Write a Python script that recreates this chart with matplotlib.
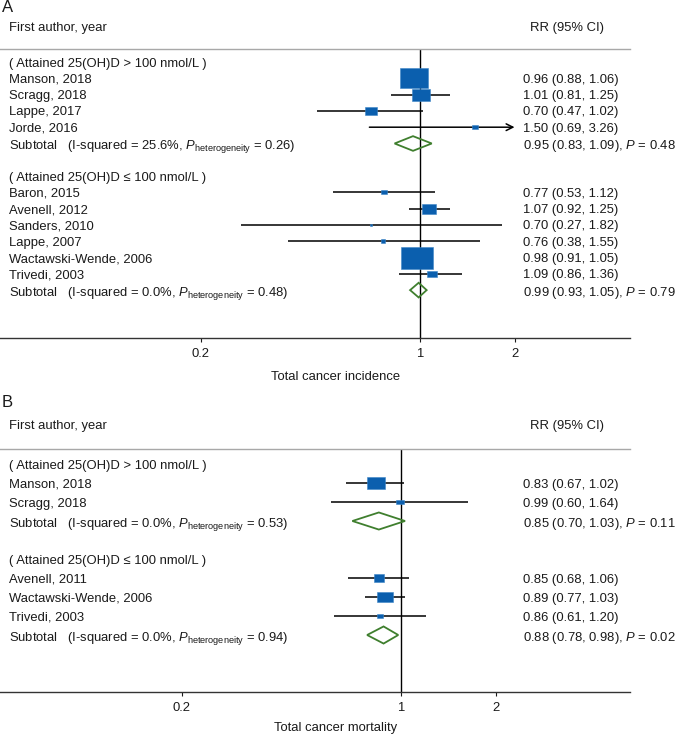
"""
Forest plot: vitamin D supplementation and total cancer incidence / mortality,
split by attained 25(OH)D level.
"""

import matplotlib
matplotlib.use("Agg")
import matplotlib.pyplot as plt
from matplotlib.path import Path
from matplotlib.ticker import NullLocator

plt.rcParams["font.family"] = ["Liberation Sans", "DejaVu Sans"]
plt.rcParams["mathtext.fontset"] = "custom"
plt.rcParams["mathtext.rm"] = "Liberation Sans"
plt.rcParams["mathtext.it"] = "Liberation Sans:italic"

# ---------------- Panel A : total cancer incidence ----------------
a1_header = "( Attained 25(OH)D > 100 nmol/L )"
a1_studies = ["Manson, 2018", "Scragg, 2018", "Lappe, 2017", "Jorde, 2016"]
a1_rr = [0.96, 1.01, 0.70, 1.50]
a1_lo = [0.88, 0.81, 0.47, 0.69]
a1_hi = [1.06, 1.25, 1.02, 3.26]
a1_weight = [60.3, 25.9, 10.3, 3.5]      # % weight
a1_sub = [0.95, 0.83, 1.09]
a1_isq, a1_phet, a1_p = "25.6", "0.26", "0.48"

a2_header = "( Attained 25(OH)D \u2264 100 nmol/L )"
a2_studies = ["Baron, 2015", "Avenell, 2012", "Sanders, 2010", "Lappe, 2007",
              "Wactawski-Wende, 2006", "Trivedi, 2003"]
a2_rr = [0.77, 1.07, 0.70, 0.76, 0.98, 1.09]
a2_lo = [0.53, 0.92, 0.27, 0.38, 0.91, 0.86]
a2_hi = [1.12, 1.25, 1.82, 1.55, 1.05, 1.36]
a2_weight = [3.4, 15.7, 0.6, 1.7, 71.5, 7.0]
a2_sub = [0.99, 0.93, 1.05]
a2_isq, a2_phet, a2_p = "0.0", "0.48", "0.79"

# ---------------- Panel B : total cancer mortality ----------------
b1_header = "( Attained 25(OH)D > 100 nmol/L )"
b1_studies = ["Manson, 2018", "Scragg, 2018"]
b1_rr = [0.83, 0.99]
b1_lo = [0.67, 0.60]
b1_hi = [1.02, 1.64]
b1_weight = [86.9, 13.1]
b1_sub = [0.85, 0.70, 1.03]
b1_isq, b1_phet, b1_p = "0.0", "0.53", "0.11"

b2_header = "( Attained 25(OH)D \u2264 100 nmol/L )"
b2_studies = ["Avenell, 2011", "Wactawski-Wende, 2006", "Trivedi, 2003"]
b2_rr = [0.85, 0.89, 0.86]
b2_lo = [0.68, 0.77, 0.61]
b2_hi = [1.06, 1.03, 1.20]
b2_weight = [28.4, 60.1, 11.5]
b2_sub = [0.88, 0.78, 0.98]
b2_isq, b2_phet, b2_p = "0.0", "0.94", "0.02"

x_ticks = [0.2, 1, 2]
x_tick_labels = ["0.2", "1", "2"]

# ---------------- style ----------------
W, H, DPI = 677, 737, 100
BLUE = "#0b5fae"
GREEN = "#3f7f2e"
TXT = "#1a1a1a"
FS = 9.4
CLIP = 2.0           # CIs running past this get an arrow
LEFT_X = 9 / 630     # axes fraction for the study column
RIGHT_X = 523 / 630  # axes fraction for the RR column

# rectangle marker, 1.5 wide : 1 high (like the stretched boxes in the original)
BOX = Path([(-1.5, -1), (1.5, -1), (1.5, 1), (-1.5, 1), (-1.5, -1)],
           [Path.MOVETO, Path.LINETO, Path.LINETO, Path.LINETO, Path.CLOSEPOLY])


def fy(px):
    return 1 - px / H


def fx(px):
    return px / W


def draw_panel(ax, groups, box_scale):
    row = 0
    trans = ax.get_yaxis_transform()
    for header, studies, rr, lo, hi, weight, sub, isq, phet, p in groups:
        ax.text(LEFT_X, row, header, transform=trans, fontsize=FS, color=TXT,
                ha="left", va="center_baseline")
        row += 1
        for name, r, l, h, w in zip(studies, rr, lo, hi, weight):
            ax.text(LEFT_X, row, name, transform=trans, fontsize=FS, color=TXT,
                    ha="left", va="center_baseline")
            ax.text(RIGHT_X, row, f"{r:.2f} ({l:.2f}, {h:.2f})", transform=trans,
                    fontsize=FS, color=TXT, ha="left", va="center_baseline")
            if h > CLIP:
                ax.annotate("", xy=(CLIP, row), xytext=(l, row),
                            arrowprops=dict(arrowstyle="->", lw=1.1, color="black",
                                            shrinkA=0, shrinkB=0, mutation_scale=12),
                            zorder=2)
            else:
                ax.hlines(row, l, h, color="black", lw=1.1, zorder=2)
            size_pt = box_scale * w ** 0.5 * 72 / DPI
            ax.scatter([r], [row], s=size_pt ** 2, marker=BOX, color=BLUE,
                       edgecolors="#3d86c6", linewidths=0.4, zorder=3)
            row += 1
        est, slo, shi = sub
        ax.fill([slo, est, shi, est, slo], [row, row - 0.45, row, row + 0.45, row],
                facecolor="none", edgecolor=GREEN, lw=1.3, zorder=3)
        ax.text(LEFT_X, row,
                f"Subtotal   (I-squared = {isq}%, $P_{{\\mathrm{{heterogeneity}}}}$ = {phet})",
                transform=trans, fontsize=FS, color=TXT, ha="left", va="center_baseline")
        ax.text(RIGHT_X, row, f"{est:.2f} ({slo:.2f}, {shi:.2f}), $P$ = {p}",
                transform=trans, fontsize=FS, color=TXT, ha="left", va="center_baseline")
        row += 2

    ax.axvline(1, color="black", lw=1.0, zorder=1)
    ax.set_xscale("log")
    ax.set_xticks(x_ticks)
    ax.set_xticklabels(x_tick_labels)
    ax.xaxis.set_minor_locator(NullLocator())
    ax.tick_params(axis="x", length=3, width=0.8, pad=4, labelsize=FS, colors=TXT)
    ax.set_yticks([])
    ax.spines["left"].set_visible(False)
    ax.spines["right"].set_visible(False)
    ax.spines["top"].set_color("#a8a8a8")
    ax.spines["top"].set_linewidth(1.0)
    ax.spines["bottom"].set_color("#333333")
    ax.spines["bottom"].set_linewidth(1.0)


fig = plt.figure(figsize=(W / DPI, H / DPI), dpi=DPI)
fig.patch.set_facecolor("white")

# panel A : axis line at 338 px, grey rule at 49 px, value 1 at 420 px, 314 px/decade
axA = fig.add_axes([0, fy(338), fx(630), (338 - 49) / H])
draw_panel(axA, [
    (a1_header, a1_studies, a1_rr, a1_lo, a1_hi, a1_weight, a1_sub, a1_isq, a1_phet, a1_p),
    (a2_header, a2_studies, a2_rr, a2_lo, a2_hi, a2_weight, a2_sub, a2_isq, a2_phet, a2_p),
], box_scale=3.73)
axA.set_xlim(10 ** (-420 / 314), 10 ** (210 / 314))
axA.set_ylim(16.94, -0.8)

# panel B : axis line at 692 px, grey rule at 449 px, value 1 at 401 px
axB = fig.add_axes([0, fy(692), fx(630), (692 - 449) / H])
draw_panel(axB, [
    (b1_header, b1_studies, b1_rr, b1_lo, b1_hi, b1_weight, b1_sub, b1_isq, b1_phet, b1_p),
    (b2_header, b2_studies, b2_rr, b2_lo, b2_hi, b2_weight, b2_sub, b2_isq, b2_phet, b2_p),
], box_scale=2.0)
axB.set_xlim(10 ** (-401 / 314), 10 ** (229 / 314))
axB.set_ylim(12.0, -0.79)

# headers and axis titles
for letter, y_letter, y_head, y_lab, label in [
        ("A", 8, 28, 377, "Total cancer incidence"),
        ("B", 403, 426, 728, "Total cancer mortality")]:
    fig.text(fx(2), fy(y_letter), letter, fontsize=12, color=TXT, ha="left", va="center")
    fig.text(fx(9), fy(y_head), "First author, year", fontsize=FS, color=TXT,
             ha="left", va="center")
    fig.text(fx(530), fy(y_head), "RR (95% CI)", fontsize=FS, color=TXT,
             ha="left", va="center")
    fig.text(fx(336), fy(y_lab), label, fontsize=FS, color=TXT, ha="center", va="center")

fig.savefig("out.png", dpi=DPI, facecolor="white")
plt.close(fig)
